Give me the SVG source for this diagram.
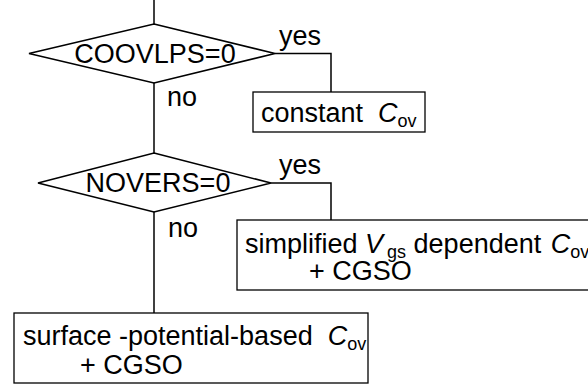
<svg xmlns="http://www.w3.org/2000/svg" width="588" height="388" viewBox="0 0 588 388">
<style>
text{font-family:"Liberation Sans",Arial,sans-serif;font-size:27px;fill:#000;white-space:pre}
.i{font-style:italic}
.s{font-size:18px}
.shape{fill:#fff;stroke:#000;stroke-width:1.5}
.box{fill:#fff;stroke:#000;stroke-width:1.3}
.c{fill:none;stroke:#000;stroke-width:1.5}
</style>
<rect width="588" height="388" fill="#fff"/>
<g id="connectors">
<path class="c" d="M154,0V24"/>
<path class="c" d="M154,83V153"/>
<path class="c" d="M154,212V313"/>
<path class="c" d="M275,53.5H331V92"/>
<path class="c" d="M271,183H331V220"/>
<text x="279" y="45">yes</text>
<text x="167" y="106">no</text>
<text x="279" y="174">yes</text>
<text x="168" y="237">no</text>
</g>
<g id="d1">
<polygon class="shape" points="154,24 275,53.5 154,83 29,53.5"/>
<text x="155" y="63" text-anchor="middle">COOVLPS=0</text>
</g>
<g id="b1">
<rect class="box" x="253" y="92" width="172" height="40"/>
<text x="261" y="122" xml:space="preserve">constant  <tspan class="i">C</tspan><tspan class="s" baseline-shift="-5">ov</tspan></text>
</g>
<g id="d2">
<polygon class="shape" points="154,153 271,183 154,212 38,183"/>
<text x="158" y="192" text-anchor="middle">NOVERS=0</text>
</g>
<g id="b2">
<rect class="box" x="237" y="220" width="360" height="70"/>
<text x="245" y="253" xml:space="preserve">simplified <tspan class="i">V</tspan><tspan class="s" dx="4" baseline-shift="-5">gs</tspan> dependent <tspan class="i" dx="2">C</tspan><tspan class="s" baseline-shift="-5">ov</tspan></text>
<text x="309" y="280">+ CGSO</text>
</g>
<g id="b3">
<rect class="box" x="14" y="313" width="354" height="70"/>
<text x="23" y="345" xml:space="preserve">surface -potential-based  <tspan class="i">C</tspan><tspan class="s" baseline-shift="-5">ov</tspan></text>
<text x="80" y="374">+ CGSO</text>
</g>
</svg>
